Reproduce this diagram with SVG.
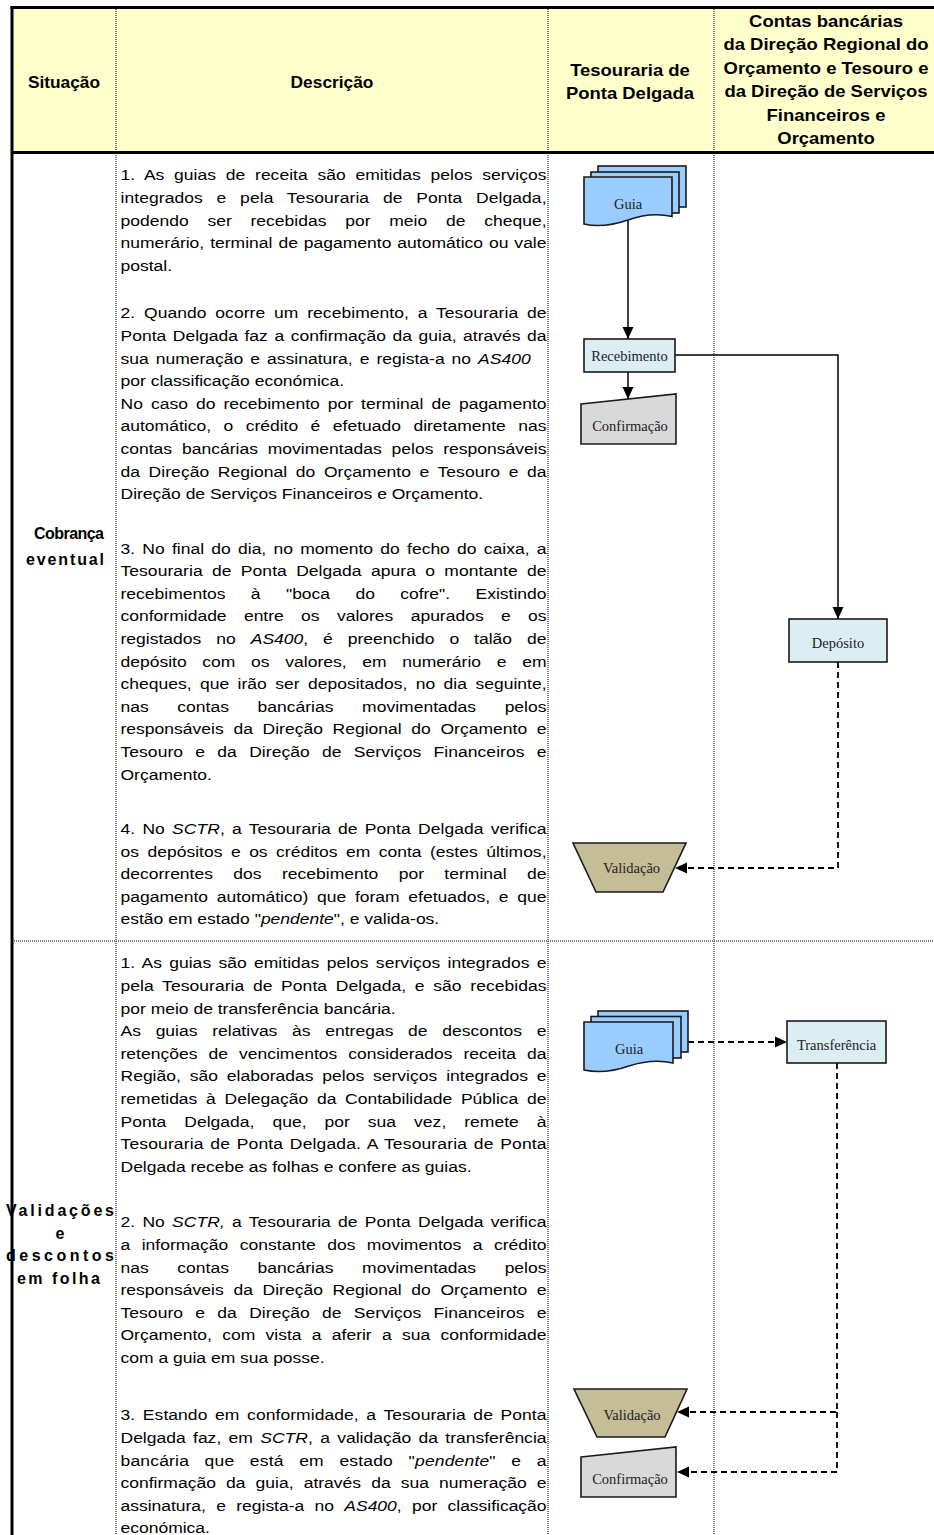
<svg xmlns="http://www.w3.org/2000/svg" width="934" height="1535" viewBox="0 0 934 1535">
<style>
  .hdr{font-family:"Liberation Sans",Arial,sans-serif;font-weight:bold;font-size:16.5px;fill:#000;text-anchor:middle}
  .lbl{font-family:"Liberation Sans",Arial,sans-serif;font-weight:bold;font-size:16px;fill:#000}
  .desc{font-family:"Liberation Sans",Arial,sans-serif;font-size:15.5px;fill:#000}
  .it{font-style:italic}
  .grid{stroke:#7a7a7a;stroke-width:2;stroke-dasharray:1 1;fill:none}
  .frame{stroke:#000;stroke-width:3;fill:none}
  .shape{stroke:#1a1a1a;stroke-width:1.6}
  .doc{fill:#99CCFF}
  .proc{fill:#DAEEF3}
  .conf{fill:#D9D9D9}
  .valid{fill:#C4BD97}
  .stxt{font-family:"Liberation Serif","Times New Roman",serif;font-size:14.5px;fill:#222;text-anchor:middle}
  .flow{stroke:#000;stroke-width:1.5;fill:none;marker-end:url(#arrow)}
  .dash{stroke-dasharray:6 4;stroke-width:1.8}
</style>
<defs>
  <marker id="arrow" markerUnits="userSpaceOnUse" markerWidth="12" markerHeight="12" refX="12" refY="6" orient="auto">
    <path d="M0,0.5 L12,6 L0,11.5 Z" fill="#000"/>
  </marker>
</defs>

<rect width="934" height="1535" fill="#fff"/>

<!-- table: header band, grid and frame -->
<g id="table">
  <rect x="12" y="7" width="922" height="145" fill="#FFFFCC"/>
  <line class="grid" x1="116" y1="7" x2="116" y2="1535"/>
  <line class="grid" x1="548" y1="7" x2="548" y2="1535"/>
  <line class="grid" x1="714" y1="7" x2="714" y2="1535"/>
  <line class="grid" x1="12" y1="941" x2="934" y2="941"/>
  <line class="frame" x1="10.5" y1="7.5" x2="934" y2="7.5"/>
  <line class="frame" x1="12" y1="6" x2="12" y2="1535"/>
  <line class="frame" x1="12" y1="152.5" x2="934" y2="152.5"/>
</g>

<!-- column headers (slightly widened glyphs) -->
<g id="headers">
  <g transform="translate(64 0) scale(1.05 1)">
    <text class="hdr" x="0" y="88">Situação</text>
  </g>
  <g transform="translate(332 0) scale(1.05 1)">
    <text class="hdr" x="0" y="88">Descrição</text>
  </g>
  <g transform="translate(630 0) scale(1.12 1)">
    <text class="hdr" x="0" y="76">Tesouraria de</text>
    <text class="hdr" x="0" y="99">Ponta Delgada</text>
  </g>
  <g transform="translate(826 0) scale(1.12 1)">
    <text class="hdr" x="0" y="27">Contas bancárias</text>
    <text class="hdr" x="0" y="50.5">da Direção Regional do</text>
    <text class="hdr" x="0" y="74">Orçamento e Tesouro  e</text>
    <text class="hdr" x="0" y="97.5">da Direção de Serviços</text>
    <text class="hdr" x="0" y="121">Financeiros e</text>
    <text class="hdr" x="0" y="144.5">Orçamento</text>
  </g>
</g>

<!-- row labels -->
<g id="situacao-1">
  <text class="lbl" x="34" y="539" textLength="70" lengthAdjust="spacing">Cobrança</text>
  <text class="lbl" x="26" y="565" textLength="78" lengthAdjust="spacing">eventual</text>
</g>
<g id="situacao-2">
  <text class="lbl" x="6" y="1216" textLength="108" lengthAdjust="spacing">Validações</text>
  <text class="lbl" x="60" y="1239" text-anchor="middle">e</text>
  <text class="lbl" x="6" y="1261" textLength="108" lengthAdjust="spacing">descontos</text>
  <text class="lbl" x="17" y="1284" textLength="83" lengthAdjust="spacing">em folha</text>
</g>

<!-- description, row 1 (justified lines use word-spacing + textLength) -->
<g id="descricao-1" class="desc" transform="matrix(1.13 0 0 1 120.5 0)">
  <text x="0" y="180.5" word-spacing="4.3" textLength="377" lengthAdjust="spacing">1. As guias de receita são emitidas pelos serviços</text>
  <text x="0" y="203.1" word-spacing="7.8" textLength="377" lengthAdjust="spacing">integrados e pela Tesouraria de Ponta Delgada,</text>
  <text x="0" y="225.7" word-spacing="12.3" textLength="377" lengthAdjust="spacing">podendo ser recebidas por meio de cheque,</text>
  <text x="0" y="248.3" word-spacing="0.9" textLength="377" lengthAdjust="spacing">numerário, terminal de pagamento automático ou vale</text>
  <text x="0" y="270.9">postal.</text>

  <text x="0" y="318.5" word-spacing="3.4" textLength="377" lengthAdjust="spacing">2. Quando ocorre um recebimento, a Tesouraria de</text>
  <text x="0" y="341.1" word-spacing="1.5" textLength="377" lengthAdjust="spacing">Ponta Delgada faz a confirmação da guia, através da</text>
  <text x="0" y="363.7" word-spacing="1.9" textLength="363" lengthAdjust="spacing">sua numeração e assinatura, e regista-a no <tspan class="it">AS400</tspan></text>
  <text x="0" y="386.3">por classificação económica.</text>
  <text x="0" y="408.9" word-spacing="2.8" textLength="377" lengthAdjust="spacing">No caso do recebimento por terminal de pagamento</text>
  <text x="0" y="431.5" word-spacing="6.7" textLength="377" lengthAdjust="spacing">automático, o crédito é efetuado diretamente nas</text>
  <text x="0" y="454.1" word-spacing="4.4" textLength="377" lengthAdjust="spacing">contas bancárias movimentadas pelos responsáveis</text>
  <text x="0" y="476.7" word-spacing="3.2" textLength="377" lengthAdjust="spacing">da Direção Regional do Orçamento e Tesouro e da</text>
  <text x="0" y="499.3">Direção de Serviços Financeiros e Orçamento.</text>

  <text x="0" y="553.7" word-spacing="2.1" textLength="377" lengthAdjust="spacing">3. No final do dia, no momento do fecho do caixa, a</text>
  <text x="0" y="576.3" word-spacing="3.9" textLength="377" lengthAdjust="spacing">Tesouraria de Ponta Delgada apura o montante de</text>
  <text x="0" y="598.9" word-spacing="18.1" textLength="377" lengthAdjust="spacing">recebimentos à "boca do cofre". Existindo</text>
  <text x="0" y="621.5" word-spacing="11" textLength="377" lengthAdjust="spacing">conformidade entre os valores apurados e os</text>
  <text x="0" y="644.1" word-spacing="8.9" textLength="377" lengthAdjust="spacing">registados no <tspan class="it">AS400</tspan>, é preenchido o talão de</text>
  <text x="0" y="666.7" word-spacing="9.6" textLength="377" lengthAdjust="spacing">depósito com os valores, em numerário e em</text>
  <text x="0" y="689.3" word-spacing="3.1" textLength="377" lengthAdjust="spacing">cheques, que irão ser depositados, no dia seguinte,</text>
  <text x="0" y="711.9" word-spacing="21" textLength="377" lengthAdjust="spacing">nas contas bancárias movimentadas pelos</text>
  <text x="0" y="734.5" word-spacing="4.2" textLength="377" lengthAdjust="spacing">responsáveis da Direção Regional do Orçamento e</text>
  <text x="0" y="757.1" word-spacing="6.5" textLength="377" lengthAdjust="spacing">Tesouro e da Direção de Serviços Financeiros e</text>
  <text x="0" y="779.7">Orçamento.</text>

  <text x="0" y="834.1" word-spacing="2" textLength="377" lengthAdjust="spacing">4. No <tspan class="it">SCTR</tspan>, a Tesouraria de Ponta Delgada verifica</text>
  <text x="0" y="856.7" word-spacing="3.2" textLength="377" lengthAdjust="spacing">os depósitos e os créditos em conta (estes últimos,</text>
  <text x="0" y="879.3" word-spacing="13.7" textLength="377" lengthAdjust="spacing">decorrentes dos recebimento por terminal de</text>
  <text x="0" y="901.9" word-spacing="3.4" textLength="377" lengthAdjust="spacing">pagamento automático) que foram efetuados, e que</text>
  <text x="0" y="924.5">estão em estado "<tspan class="it">pendente</tspan>", e valida-os.</text>
</g>

<!-- description, row 2 -->
<g id="descricao-2" class="desc" transform="matrix(1.13 0 0 1 120.5 0)">
  <text x="0" y="968.5" word-spacing="2.1" textLength="377" lengthAdjust="spacing">1. As guias são emitidas pelos serviços integrados e</text>
  <text x="0" y="991.1" word-spacing="3.3" textLength="377" lengthAdjust="spacing">pela Tesouraria de Ponta Delgada, e são recebidas</text>
  <text x="0" y="1013.7">por meio de transferência bancária.</text>
  <text x="0" y="1036.3" word-spacing="8.7" textLength="377" lengthAdjust="spacing">As guias relativas às entregas de descontos e</text>
  <text x="0" y="1058.9" word-spacing="5.4" textLength="377" lengthAdjust="spacing">retenções de vencimentos considerados receita da</text>
  <text x="0" y="1081.5" word-spacing="3.5" textLength="377" lengthAdjust="spacing">Região, são elaboradas pelos serviços integrados e</text>
  <text x="0" y="1104.1" word-spacing="3.4" textLength="377" lengthAdjust="spacing">remetidas à Delegação da Contabilidade Pública de</text>
  <text x="0" y="1126.7" word-spacing="11.6" textLength="377" lengthAdjust="spacing">Ponta Delgada, que, por sua vez, remete à</text>
  <text x="0" y="1149.3" word-spacing="1.5" textLength="377" lengthAdjust="spacing">Tesouraria de Ponta Delgada. A Tesouraria de Ponta</text>
  <text x="0" y="1171.9">Delgada recebe as folhas e confere as guias.</text>

  <text x="0" y="1227.5" word-spacing="2" textLength="377" lengthAdjust="spacing">2. No <tspan class="it">SCTR,</tspan> a Tesouraria de Ponta Delgada verifica</text>
  <text x="0" y="1250.1" word-spacing="5.8" textLength="377" lengthAdjust="spacing">a informação constante dos movimentos a crédito</text>
  <text x="0" y="1272.7" word-spacing="21" textLength="377" lengthAdjust="spacing">nas contas bancárias movimentadas pelos</text>
  <text x="0" y="1295.3" word-spacing="4.2" textLength="377" lengthAdjust="spacing">responsáveis da Direção Regional do Orçamento e</text>
  <text x="0" y="1317.9" word-spacing="6.5" textLength="377" lengthAdjust="spacing">Tesouro e da Direção de Serviços Financeiros e</text>
  <text x="0" y="1340.5" word-spacing="4.8" textLength="377" lengthAdjust="spacing">Orçamento, com vista a aferir a sua conformidade</text>
  <text x="0" y="1363.1">com a guia em sua posse.</text>

  <text x="0" y="1420.5" word-spacing="2.4" textLength="377" lengthAdjust="spacing">3. Estando em conformidade, a Tesouraria de Ponta</text>
  <text x="0" y="1443.1" word-spacing="2.2" textLength="377" lengthAdjust="spacing">Delgada faz, em <tspan class="it">SCTR</tspan>, a validação da transferência</text>
  <text x="0" y="1465.7" word-spacing="9.3" textLength="377" lengthAdjust="spacing">bancária que está em estado "<tspan class="it">pendente</tspan>" e a</text>
  <text x="0" y="1488.3" word-spacing="4.6" textLength="377" lengthAdjust="spacing">confirmação da guia, através da sua numeração e</text>
  <text x="0" y="1510.9" word-spacing="4.9" textLength="377" lengthAdjust="spacing">assinatura, e regista-a no <tspan class="it">AS400</tspan>, por classificação</text>
  <text x="0" y="1533.5">económica.</text>
</g>

<!-- connectors -->
<g id="connectors">
  <path class="flow" d="M628,220 V339"/>
  <path class="flow" d="M628,372 V399"/>
  <path class="flow" d="M675,355 H838 V619"/>
  <path class="flow dash" d="M838,662 V868 H675"/>
  <path class="flow dash" d="M688,1042 H787"/>
  <path class="flow dash" d="M837,1063 V1412 H677"/>
  <path class="flow dash" d="M837,1412 V1472 H677"/>
</g>

<!-- nodes, row 1 -->
<g id="guia-1">
  <rect class="shape doc" x="598" y="166" width="88" height="41"/>
  <rect class="shape doc" x="591" y="172" width="88" height="41"/>
  <path class="shape doc" d="M584,177 H672 V216.5 C656,213 642,215 628,220 C612,225.5 597,227 584,224 Z"/>
  <text class="stxt" x="628" y="209">Guia</text>
</g>
<g id="recebimento">
  <rect class="shape proc" x="584" y="339" width="91" height="33"/>
  <text class="stxt" x="629.5" y="360.5">Recebimento</text>
</g>
<g id="confirmacao-1">
  <path class="shape conf" d="M581,404 L676,394 V444 H581 Z"/>
  <text class="stxt" x="630" y="431">Confirmação</text>
</g>
<g id="deposito">
  <rect class="shape proc" x="789" y="619" width="98" height="43"/>
  <text class="stxt" x="838" y="648">Depósito</text>
</g>
<g id="validacao-1">
  <path class="shape valid" d="M573,843 H686 L663,892 H596 Z"/>
  <text class="stxt" x="631.5" y="873">Validação</text>
</g>

<!-- nodes, row 2 -->
<g id="guia-2">
  <rect class="shape doc" x="598" y="1011" width="90" height="41"/>
  <rect class="shape doc" x="591" y="1016.5" width="90" height="41.5"/>
  <path class="shape doc" d="M584,1022 H673 V1063 C657,1059.5 643,1061.5 629,1066 C613,1071.5 598,1073 584,1070 Z"/>
  <text class="stxt" x="629" y="1054">Guia</text>
</g>
<g id="transferencia">
  <rect class="shape proc" x="787" y="1021" width="99" height="42"/>
  <text class="stxt" x="836.5" y="1050">Transferência</text>
</g>
<g id="validacao-2">
  <path class="shape valid" d="M574,1389 H687 L665,1437 H597 Z"/>
  <text class="stxt" x="632" y="1420">Validação</text>
</g>
<g id="confirmacao-2">
  <path class="shape conf" d="M581,1457 L676,1447 V1497 H581 Z"/>
  <text class="stxt" x="630" y="1484">Confirmação</text>
</g>
</svg>
